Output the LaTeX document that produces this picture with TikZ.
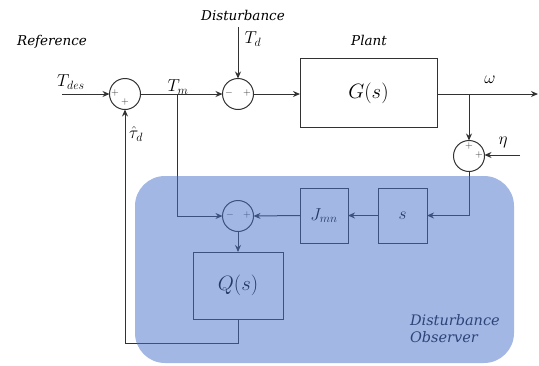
\documentclass[tikz,border=0pt]{standalone}
\usepackage{fontspec}
\setmainfont{DejaVu Serif}
\usetikzlibrary{arrows.meta}
\definecolor{lc}{RGB}{50,50,50}
\definecolor{dob}{RGB}{70,112,200}
\definecolor{dobtext}{RGB}{45,68,120}
\begin{document}
\begin{tikzpicture}[x=1pt,y=-1pt,
  every node/.style={inner sep=0pt,outer sep=0pt},
  conn/.style={draw=lc,line width=1pt},
  arr/.style={conn,-{Stealth[length=7pt,width=6pt]}},
  sumc/.style={draw=lc,line width=1pt,circle,minimum size=31pt},
  blk/.style={draw=lc,line width=1pt,rectangle},
  lab/.style={font=\fontsize{17}{20}\selectfont,text=black},
  wrd/.style={font=\fontsize{13.5}{16}\selectfont\itshape,text=black},
  sgn/.style={font=\fontsize{10}{11}\selectfont,text=lc}]
\useasboundingbox (0,0) rectangle (539,365);
% nodes
\node[sumc] (s1) at (125,94) {};
\node[sumc] (s2) at (238,94) {};
\node[blk,minimum width=137pt,minimum height=69pt] (G) at (368.5,93) {\fontsize{21}{24}\selectfont$G(s)$};
\node[sumc] (s3) at (469,156) {};
\node[sumc] (s4) at (238,216) {};
\node[blk,minimum width=48pt,minimum height=55pt] (J) at (324,215.5) {\fontsize{17}{20}\selectfont$J_{mn}$};
\node[blk,minimum width=49pt,minimum height=55pt] (S) at (402.5,215.5) {\fontsize{16}{19}\selectfont$s$};
\node[blk,minimum width=90pt,minimum height=67pt] (Q) at (238,285.5) {\fontsize{20}{23}\selectfont$Q(s)$};
% coordinates
\coordinate (tin) at (62,94);
\coordinate (dst) at (238,27);
\coordinate (jm) at (177,94);
\coordinate (jw) at (469,94);
\coordinate (out) at (538,94);
\coordinate (eta) at (520,155);
\coordinate (qb) at (238,343);
% connectors
\draw[arr] (tin) -- (s1.west);
\draw[arr] (s1.east) -- (s2.west);
\draw[arr] (dst) -- (s2.north);
\draw[arr] (s2.east) -- (G.west |- s2.east);
\draw[arr] (G.east |- jw) -- (out);
\draw[arr] (jw) -- (s3.north);
\draw[arr] (eta) -- (s3.east |- eta);
\draw[arr] (s3.south) |- (S.east);
\draw[arr] (S.west) -- (J.east);
\draw[arr] (J.west) -- (s4.east);
\draw[arr] (jm) |- (s4.west);
\draw[arr] (s4.south) -- (Q.north);
\draw[arr] (Q.south) -- (qb) -| (s1.south);
% signs
\node[sgn] (p1a) at (115,93) {$+$};
\node[sgn] (p1b) at (125,102) {$+$};
\node[sgn] (m2) at (229,93) {$-$};
\node[sgn] (p2) at (247,93) {$+$};
\node[sgn] (p3a) at (469,146) {$+$};
\node[sgn] (p3b) at (479,155) {$+$};
\node[sgn] (m4) at (230,215) {$-$};
\node[sgn] (p4) at (247,215) {$+$};
% labels
\node[wrd] (lref) at (52,42) {Reference};
\node[wrd] (ldist) at (243,15) {Disturbance};
\node[wrd] (lplant) at (369,40) {Plant};
\node[lab] (ltdes) at (71,82) {$T_{des}$};
\node[lab] (ltm) at (178,87) {$T_m$};
\node[lab] (ltd) at (253,39) {$T_d$};
\node[lab] (ltau) at (136,134) {$\hat{\tau}_d$};
\node[lab] (lw) at (490,80) {$\omega$};
\node[lab] (leta) at (503,142) {$\eta$};
% observer overlay
\fill[dob,opacity=0.5,rounded corners=30pt] (135,176) rectangle (514,363);
\node[wrd,font=\fontsize{14.5}{17}\selectfont\itshape,text=dobtext,align=left,anchor=north west] (ldob) at (410,314) {Disturbance\\Observer};
\end{tikzpicture}
\end{document}
